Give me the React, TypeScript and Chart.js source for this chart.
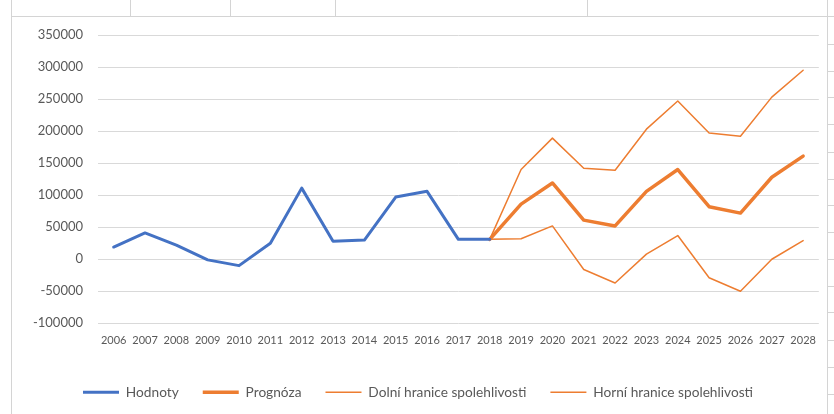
import React, { useEffect, useRef } from "react";
import { Chart, registerables } from "chart.js";

Chart.register(...registerables);

const years = [
  "2006", "2007", "2008", "2009", "2010", "2011", "2012", "2013", "2014", "2015", "2016", "2017",
  "2018", "2019", "2020", "2021", "2022", "2023", "2024", "2025", "2026", "2027", "2028",
];

const hodnoty = [
  19000, 41000, 22000, -1000, -10000, 25000, 111000, 28000, 30000, 97000, 106000, 31000,
  31000, null, null, null, null, null, null, null, null, null, null,
];

const prognoza = [
  null, null, null, null, null, null, null, null, null, null, null, null,
  31000, 86000, 119000, 61000, 52000, 106000, 140000, 82000, 72000, 128000, 161000,
];

const dolni = [
  null, null, null, null, null, null, null, null, null, null, null, null,
  31000, 32000, 52000, -16000, -37000, 8000, 37000, -29000, -50000, 0, 29000,
];

const horni = [
  null, null, null, null, null, null, null, null, null, null, null, null,
  31000, 140000, 189000, 142000, 139000, 203000, 247000, 197000, 192000, 253000, 295000,
];

const seriesNames = ["Hodnoty", "Prognóza", "Dolní hranice spolehlivosti", "Horní hranice spolehlivosti"];

const yMin = -100000;
const yMax = 350000;
const yStep = 50000;

const BLUE = "#4472C4";
const ORANGE = "#ED7D31";
const TEXT = "#595959";
const GRID = "#d9d9d9";
const SHEET = "#d4d4d4";

const legendShift = {
  id: "legendShift",
  afterLayout(chart: any) {
    const lg = chart.legend;
    if (lg) {
      lg.left += 1;
      lg.right += 1;
    }
  },
};

export default function App() {
  const ref = useRef<HTMLCanvasElement | null>(null);

  useEffect(() => {
    if (!ref.current) return;
    const mk = (label: string, data: any[], color: string, width: number) => ({
      label,
      data,
      borderColor: color,
      backgroundColor: color,
      borderWidth: width,
      pointRadius: 0,
      pointHoverRadius: 0,
      tension: 0,
      fill: false,
      pointStyle: "line",
      borderCapStyle: "round" as const,
      borderJoinStyle: "round" as const,
    });
    const chart = new Chart(ref.current, {
      type: "line",
      data: {
        labels: years,
        datasets: [
          mk(seriesNames[0], hodnoty, BLUE, 3),
          mk(seriesNames[1], prognoza, ORANGE, 3.5),
          mk(seriesNames[2], dolni, ORANGE, 1.5),
          mk(seriesNames[3], horni, ORANGE, 1.5),
        ],
      },
      options: {
        animation: false,
        responsive: false,
        maintainAspectRatio: false,
        layout: { padding: { top: 18, right: 5, left: 0, bottom: 5 } },
        plugins: {
          tooltip: { enabled: false },
          legend: {
            position: "bottom",
            labels: {
              usePointStyle: true,
              pointStyle: "line",
              pointStyleWidth: 36,
              boxHeight: 12,
              padding: 24,
              color: TEXT,
              font: { family: "Lato", size: 13.7 },
            },
          },
        },
        scales: {
          x: {
            offset: true,
            grid: { display: false, drawTicks: false },
            border: { display: false },
            afterFit(scale: any) {
              scale.height = 38;
            },
            ticks: {
              color: TEXT,
              font: { family: "Lato", size: 11 },
              padding: 11,
              maxRotation: 0,
              autoSkip: false,
            },
          },
          y: {
            min: yMin,
            max: yMax,
            border: { display: false },
            grid: { color: GRID, lineWidth: 1, drawTicks: true, tickLength: 15, tickColor: "rgba(0,0,0,0)" },
            afterFit(scale: any) {
              scale.width = 86;
            },
            ticks: {
              stepSize: yStep,
              color: TEXT,
              padding: 0,
              font: { family: "Lato", size: 13 },
              callback: (v: any) => String(v),
            },
          },
        },
      },
      plugins: [legendShift],
    });
    return () => chart.destroy();
  }, []);

  const line = (style: React.CSSProperties) => (
    <div style={{ position: "absolute", background: SHEET, ...style }} />
  );
  const rowLines = [44, 71, 97, 124, 152, 179, 205, 232, 259, 286, 312, 340, 367, 394];

  return (
    <div style={{ position: "fixed", left: 0, top: 0, width: 834, height: 414, background: "#fff", overflow: "hidden" }}>
      {line({ left: 11, top: 0, width: 1, height: 414 })}
      {line({ left: 11, top: 16, width: 823, height: 1 })}
      {[130, 230, 335, 587].map((x) => line({ left: x, top: 0, width: 1, height: 16, key: x } as any))}
      {line({ left: 827, top: 0, width: 1, height: 414 })}
      {rowLines.map((y) => line({ left: 828, top: y, width: 6, height: 1, key: y } as any))}
      <canvas ref={ref} width={815} height={397} style={{ position: "absolute", left: 12, top: 17, width: 815, height: 397 }} />
    </div>
  );
}
